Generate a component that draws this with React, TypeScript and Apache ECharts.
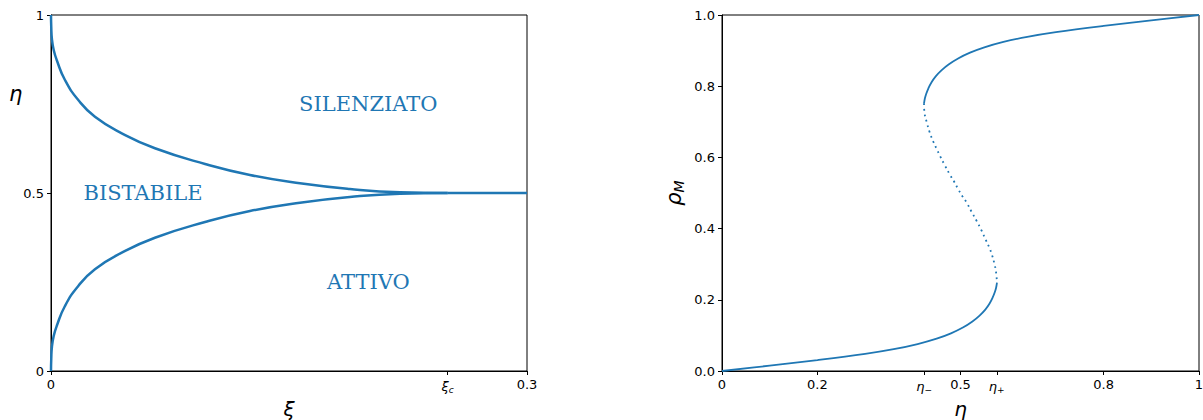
import React, { useEffect, useRef } from "react";
import * as echarts from "echarts";

const BLUE = "#1f77b4";

// Left panel: phase diagram (xi, eta)
const XI_C = 0.25;
const XI_MAX = 0.3;
const leftXTicks = [0, XI_C, XI_MAX];
const leftYTicks = [0, 0.5, 1];

const upperXi = [0, 0.00016, 0.00057, 0.0017, 0.0036, 0.0088, 0.0172, 0.0277, 0.0446, 0.0655, 0.0971, 0.1254, 0.1569, 0.1884, 0.2199, 0.25];
const upperEta = [1.0, 0.9663, 0.9326, 0.9017, 0.8736, 0.8174, 0.7612, 0.7143, 0.6677, 0.6256, 0.5815, 0.5506, 0.5272, 0.5112, 0.502, 0.5];

const lowerXi = [0, 0.00016, 0.00057, 0.0017, 0.0036, 0.0088, 0.0172, 0.0277, 0.0446, 0.0655, 0.0971, 0.1254, 0.1569, 0.1884, 0.2199, 0.25];
const lowerEta = [0.0, 0.0337, 0.0674, 0.0983, 0.1264, 0.1826, 0.2388, 0.2857, 0.3323, 0.3744, 0.4185, 0.4494, 0.4728, 0.4888, 0.498, 0.5];

const flatXi = [0.25, 0.3];
const flatEta = [0.5, 0.5];

const regionNames = ["SILENZIATO", "BISTABILE", "ATTIVO"];
const regionXi = [0.2, 0.058, 0.2];
const regionEta = [0.75, 0.5, 0.25];

// Right panel: S-curve (eta, rho_M)
const ETA_MINUS = 0.424;
const ETA_PLUS = 0.576;
const rightXTicks = [0, 0.2, ETA_MINUS, 0.5, ETA_PLUS, 0.8, 1];

const upperBranchEta = [0.4235, 0.424, 0.4255, 0.428, 0.4325, 0.439, 0.448, 0.46, 0.475, 0.495, 0.52, 0.55, 0.59, 0.64, 0.7, 0.8, 0.9, 1.0];
const upperBranchRho = [0.752, 0.7562, 0.7667, 0.7782, 0.7935, 0.8104, 0.8275, 0.8443, 0.8608, 0.8778, 0.8941, 0.9091, 0.9243, 0.9388, 0.952, 0.9695, 0.985, 1.0];

const lowerBranchEta = [0, 0.1, 0.2, 0.3, 0.36, 0.41, 0.45, 0.48, 0.505, 0.525, 0.54, 0.552, 0.561, 0.5675, 0.572, 0.5745, 0.576, 0.5765];
const lowerBranchRho = [0, 0.015, 0.0305, 0.048, 0.0612, 0.0757, 0.0909, 0.1059, 0.1222, 0.1392, 0.1557, 0.1725, 0.1896, 0.2065, 0.2218, 0.2333, 0.2438, 0.248];

const middleEta = [0.4235, 0.4245, 0.429, 0.435, 0.443, 0.45, 0.457, 0.467, 0.478, 0.487, 0.495, 0.504, 0.513, 0.523, 0.534, 0.544, 0.553, 0.56, 0.566, 0.571, 0.5745, 0.5765];
const middleRho = [0.752, 0.725, 0.7, 0.672, 0.644, 0.624, 0.604, 0.578, 0.551, 0.531, 0.511, 0.491, 0.473, 0.448, 0.421, 0.395, 0.368, 0.348, 0.326, 0.302, 0.278, 0.248];

const zip = (a: number[], b: number[]) => a.map((v, i) => [v, b[i]]);

const FONT = "DejaVu Sans";
const tickLabel = { color: "#000", fontSize: 13, fontFamily: FONT };
const richTick = {
  i: { fontSize: 13, fontStyle: "italic", fontFamily: FONT, color: "#000" },
  s: { fontSize: 9, fontStyle: "italic", fontFamily: FONT, color: "#000", padding: [7, 0, 0, 0] },
  n: { fontSize: 13, fontFamily: FONT, color: "#000" },
};

export default function App() {
  const ref = useRef<HTMLDivElement>(null);
  useEffect(() => {
    document.body.style.margin = "0";
    const chart = echarts.init(ref.current!, undefined, { renderer: "svg" });

    const axisLine = { show: true, lineStyle: { color: "#000", width: 1 } };
    const axisTick = (vals: number[]) => ({ show: true, length: 4, inside: false, customValues: vals, lineStyle: { color: "#000", width: 1 } });

    const option: any = {
      animation: false,
      backgroundColor: "#fff",
      grid: [
        { left: 51, top: 15, width: 476, height: 356, show: true, borderColor: "#000", borderWidth: 1, backgroundColor: "transparent", outerBoundsMode: "none" },
        { left: 722, top: 15, width: 477, height: 356, show: true, borderColor: "#000", borderWidth: 1, backgroundColor: "transparent", outerBoundsMode: "none" },
      ],
      xAxis: [
        {
          type: "value", gridIndex: 0, min: 0, max: XI_MAX,
          axisLine, axisTick: axisTick(leftXTicks), splitLine: { show: false },
          axisLabel: {
            ...tickLabel, margin: 7, customValues: leftXTicks, rich: richTick,
            formatter: (v: number) => (Math.abs(v - XI_C) < 1e-9 ? "{i|ξ}{s|c}" : "{n|" + String(v) + "}"),
          },
          name: "ξ", nameLocation: "middle", nameGap: 24,
          nameTextStyle: { fontSize: 20, fontStyle: "italic", fontFamily: FONT, color: "#000" },
        },
        {
          type: "value", gridIndex: 1, min: 0, max: 1,
          axisLine, axisTick: axisTick(rightXTicks), splitLine: { show: false },
          axisLabel: {
            ...tickLabel, margin: 7, customValues: rightXTicks, rich: richTick,
            formatter: (v: number) => {
              if (Math.abs(v - ETA_MINUS) < 1e-9) return "{i|η}{s|−}";
              if (Math.abs(v - ETA_PLUS) < 1e-9) return "{i|η}{s|+}";
              return "{n|" + String(v) + "}";
            },
          },
          name: "η", nameLocation: "middle", nameGap: 24,
          nameTextStyle: { fontSize: 20, fontStyle: "italic", fontFamily: FONT, color: "#000" },
        },
      ],
      yAxis: [
        {
          type: "value", gridIndex: 0, min: 0, max: 1,
          axisLine, axisTick: axisTick(leftYTicks), splitLine: { show: false },
          axisLabel: { ...tickLabel, margin: 7, customValues: leftYTicks, formatter: (v: number) => String(v) },
        },
        {
          type: "value", gridIndex: 1, min: 0, max: 1, interval: 0.2,
          axisLine, axisTick: { show: true, length: 4, lineStyle: { color: "#000" } }, splitLine: { show: false },
          axisLabel: { ...tickLabel, margin: 7, formatter: (v: number) => v.toFixed(1) },
          name: "{i|ρ}{s|M}", nameLocation: "middle", nameGap: 36, nameRotate: 90,
          nameTextStyle: {
            rich: {
              i: { fontSize: 21, fontStyle: "italic", fontFamily: FONT, color: "#000" },
              s: { fontSize: 14, fontStyle: "italic", fontFamily: FONT, color: "#000", padding: [10, 0, 0, 0] },
            },
          },
        },
      ],
      graphic: [
        {
          type: "text", left: 9, top: 83,
          style: { text: "η", fontSize: 21, fontStyle: "italic", fontFamily: FONT, fill: "#000" },
        },
      ],
      series: [
        { type: "line", xAxisIndex: 0, yAxisIndex: 0, data: zip(upperXi, upperEta), smooth: 0.5, symbol: "none", lineStyle: { color: BLUE, width: 2.5 } },
        { type: "line", xAxisIndex: 0, yAxisIndex: 0, data: zip(lowerXi, lowerEta), smooth: 0.5, symbol: "none", lineStyle: { color: BLUE, width: 2.5 } },
        { type: "line", xAxisIndex: 0, yAxisIndex: 0, data: zip(flatXi, flatEta), symbol: "none", lineStyle: { color: BLUE, width: 2.5 } },
        {
          type: "scatter", xAxisIndex: 0, yAxisIndex: 0, symbolSize: 0,
          data: regionNames.map((n, i) => ({ name: n, value: [regionXi[i], regionEta[i]] })),
          label: {
            show: true, position: "inside", formatter: (p: any) => p.name, color: BLUE, opacity: 1,
            textBorderWidth: 0, textBorderColor: "transparent", fontSize: 21, fontFamily: "DejaVu Serif",
          },
          itemStyle: { color: BLUE, opacity: 1 },
        },
        { type: "line", xAxisIndex: 1, yAxisIndex: 1, data: zip(lowerBranchEta, lowerBranchRho), smooth: 0.4, symbol: "none", lineStyle: { color: BLUE, width: 1.8 } },
        { type: "line", xAxisIndex: 1, yAxisIndex: 1, data: zip(upperBranchEta, upperBranchRho), smooth: 0.4, symbol: "none", lineStyle: { color: BLUE, width: 1.8 } },
        { type: "line", xAxisIndex: 1, yAxisIndex: 1, data: zip(middleEta, middleRho), smooth: 0.4, symbol: "none", lineStyle: { color: BLUE, width: 1.8, type: [1.8, 3.8] } },
      ],
    };
    chart.setOption(option);
    return () => chart.dispose();
  }, []);
  return <div ref={ref} style={{ width: 1203, height: 420 }} />;
}
